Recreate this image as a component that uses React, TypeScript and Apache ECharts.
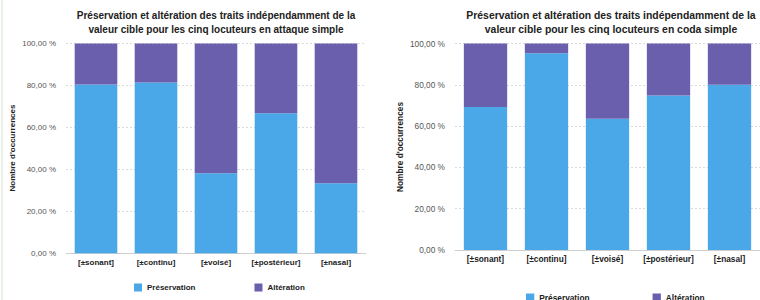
import React, { useEffect, useRef } from "react";
import * as echarts from "echarts";

const categories = ["[±sonant]", "[±continu]", "[±voisé]", "[±postérieur]", "[±nasal]"];
const yTicks = [0, 20, 40, 60, 80, 100];

const attaquePreservation = [80.5, 81.4, 38.1, 66.7, 33.3];
const attaqueAlteration = [19.5, 18.6, 61.9, 33.3, 66.7];

const codaPreservation = [69.3, 95.3, 63.5, 74.8, 80.0];
const codaAlteration = [30.7, 4.7, 36.5, 25.2, 20.0];

const titleAttaque =
  "Préservation et altération des traits indépendamment de la\nvaleur cible pour les cinq locuteurs en attaque simple";
const titleCoda =
  "Préservation et altération des traits indépendamment de la\nvaleur cible pour les cinq locuteurs en coda simple";
const yName = "Nombre d'occurrences";
const seriesNames = ["Préservation", "Altération"];

const BLUE = "#4aa8e8";
const PURPLE = "#6a5fad";
const FONT = "'Liberation Sans', Arial, Helvetica, sans-serif";

const fmt = (v: number) => v.toFixed(2).replace(".", ",") + " %";

export default function App() {
  const ref = useRef<HTMLDivElement>(null);
  useEffect(() => {
    if (!ref.current) return;
    const chart = echarts.init(ref.current, null, { renderer: "svg" });

    const mkY = (idx: number, fs: number) => ({
      type: "value",
      gridIndex: idx,
      min: 0,
      max: 100,
      interval: 20,
      axisLine: { show: false },
      axisTick: { show: false },
      axisLabel: {
        formatter: (v: number) => fmt(v),
        fontSize: fs,
        color: "#555",
        fontFamily: FONT,
        margin: 10,
        customValues: yTicks,
      },
      splitLine: { lineStyle: { color: "#dadada", type: [2, 2], width: 1 } },
    });
    const mkX = (idx: number, fs: number) => ({
      type: "category",
      gridIndex: idx,
      data: categories,
      axisLine: { lineStyle: { color: "#cfcfcf", width: 1 } },
      axisTick: { show: false },
      axisLabel: {
        fontSize: fs,
        fontWeight: "bold",
        color: "#222",
        fontFamily: FONT,
        margin: 5,
        interval: 0,
      },
    });
    const mkBar = (name: string, data: number[], idx: number, color: string, stack: string) => ({
      type: "bar",
      name,
      data,
      xAxisIndex: idx,
      yAxisIndex: idx,
      stack,
      barWidth: "71%",
      itemStyle: { color, borderWidth: 0 },
    });

    chart.setOption({
      animation: false,
      backgroundColor: "#ffffff",
      color: [BLUE, PURPLE],
      grid: [
        { left: 66, top: 43.5, width: 300, height: 209.7 },
        { left: 455, top: 43.5, width: 312.5, height: 206.5 },
      ],
      xAxis: [mkX(0, 8), mkX(1, 8.3)],
      yAxis: [mkY(0, 8), mkY(1, 8.3)],
      legend: [
        {
          data: seriesNames,
          left: 134,
          top: 283.5,
          padding: 0,
          itemWidth: 8,
          itemHeight: 8,
          itemGap: 59,
          icon: "rect",
          textStyle: { fontSize: 8, fontWeight: "bold", color: "#222", fontFamily: FONT },
        },
        {
          data: seriesNames,
          left: 526,
          top: 293.5,
          padding: 0,
          itemWidth: 8.3,
          itemHeight: 8.3,
          itemGap: 63,
          icon: "rect",
          textStyle: { fontSize: 8.3, fontWeight: "bold", color: "#222", fontFamily: FONT },
        },
      ],
      graphic: [
        { type: "line", shape: { x1: 2, y1: 0, x2: 2, y2: 300 }, style: { stroke: "#e2ece2", lineWidth: 1.5 } },
        {
          type: "text",
          x: 216,
          y: 9.3,
          style: {
            text: titleAttaque,
            textAlign: "center",
            textVerticalAlign: "top",
            fontSize: 10,
            fontWeight: "bold",
            lineHeight: 13.3,
            fill: "#222",
            fontFamily: FONT,
          },
        },
        {
          type: "text",
          x: 611,
          y: 9.3,
          style: {
            text: titleCoda,
            textAlign: "center",
            textVerticalAlign: "top",
            fontSize: 10.4,
            fontWeight: "bold",
            lineHeight: 13.3,
            fill: "#222",
            fontFamily: FONT,
          },
        },
        {
          type: "text",
          x: 12.5,
          y: 148,
          rotation: Math.PI / 2,
          style: {
            text: yName,
            textAlign: "center",
            textVerticalAlign: "middle",
            fontSize: 8,
            fontWeight: "bold",
            fill: "#222",
            fontFamily: FONT,
          },
        },
        {
          type: "text",
          x: 400,
          y: 147,
          rotation: Math.PI / 2,
          style: {
            text: yName,
            textAlign: "center",
            textVerticalAlign: "middle",
            fontSize: 8.3,
            fontWeight: "bold",
            fill: "#222",
            fontFamily: FONT,
          },
        },
      ],
      series: [
        mkBar(seriesNames[0], attaquePreservation, 0, BLUE, "a"),
        mkBar(seriesNames[1], attaqueAlteration, 0, PURPLE, "a"),
        mkBar(seriesNames[0], codaPreservation, 1, BLUE, "c"),
        mkBar(seriesNames[1], codaAlteration, 1, PURPLE, "c"),
      ],
    });
    return () => chart.dispose();
  }, []);
  return (
    <div
      ref={ref}
      style={{ position: "fixed", left: 0, top: 0, width: 760, height: 300 }}
    />
  );
}
